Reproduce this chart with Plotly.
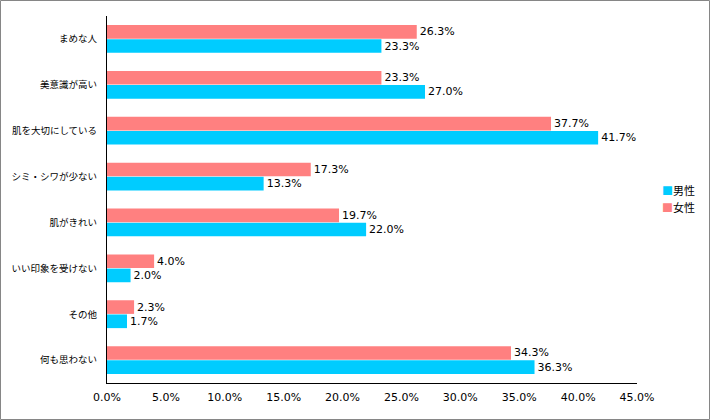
import plotly.graph_objects as go

categories = ["まめな人", "美意識が高い", "肌を大切にしている", "シミ・シワが少ない",
              "肌がきれい", "いい印象を受けない", "その他", "何も思わない"]
male = [23.3, 27.0, 41.7, 13.3, 22.0, 2.0, 1.7, 36.3]
female = [26.3, 23.3, 37.7, 17.3, 19.7, 4.0, 2.3, 34.3]
x_ticks = [0, 5, 10, 15, 20, 25, 30, 35, 40, 45]
series_names = ["男性", "女性"]
series_colors = ["#00CCFF", "#FF8080"]

W, H = 710, 420
L, R, T, B = 107, 73, 16, 37
pw, ph = W - L - R, H - T - B

font_jp = "Noto Sans CJK JP"
font_num = "DejaVu Sans"

fig = go.Figure()
for name, vals, col in zip(series_names, [male, female], series_colors):
    fig.add_trace(go.Bar(
        y=categories, x=vals, name=name, orientation="h",
        marker=dict(color=col, line=dict(width=0)),
        text=[f"{v:.1f}%" for v in vals], textposition="outside",
        textfont=dict(family=font_num, size=11, color="#000000"), cliponaxis=False,
        showlegend=False,
    ))

fig.update_layout(
    width=W, height=H,
    margin=dict(l=L, r=R, t=T, b=B, autoexpand=False),
    paper_bgcolor="white", plot_bgcolor="white",
    barmode="group", bargap=0.38, bargroupgap=0.04,
    showlegend=False,
    xaxis=dict(range=[0, 45], tickvals=x_ticks, ticktext=[f"{v:.1f}%" for v in x_ticks],
               showgrid=False, zeroline=False, showline=True, linecolor="#000000",
               linewidth=1, ticks="", automargin=False, ticklabelstandoff=4,
               tickfont=dict(family=font_num, size=11, color="#000000")),
    yaxis=dict(categoryorder="array", categoryarray=categories[::-1],
               showgrid=False, zeroline=False, showline=True, linecolor="#000000",
               linewidth=1, ticks="", ticklabelstandoff=7, automargin=False,
               tickfont=dict(family=font_jp, size=9.5, color="#000000")),
    font=dict(family=font_jp, size=11, color="#000000"),
)

# legend drawn as annotations (square marker + label)
leg_y = [190, 207]
for name, col, yy in zip(series_names, series_colors, leg_y):
    fig.add_annotation(xref="paper", yref="paper",
                       x=(660 - L) / pw, y=(H - B - yy) / ph,
                       xanchor="left", yanchor="middle", showarrow=False,
                       text=f"<span style='color:{col}'>■</span>{name}",
                       font=dict(family=font_jp, size=11, color="#000000"))

fig.add_shape(type="rect", xref="paper", yref="paper",
              x0=(0.5 - L) / pw, x1=(W - 0.5 - L) / pw,
              y0=(H - B - (H - 0.5)) / ph, y1=(H - B - 0.5) / ph,
              line=dict(color="#868686", width=1), fillcolor="rgba(0,0,0,0)", layer="below")

fig.write_html("out.html", config={"displayModeBar": False},
               post_script="document.body.style.margin='0';document.body.style.overflow='hidden';")
